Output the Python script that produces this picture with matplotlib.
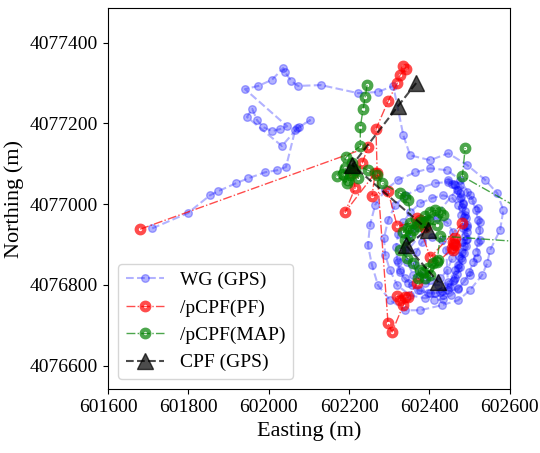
import matplotlib
matplotlib.use("Agg")
import matplotlib.pyplot as plt

plt.rcParams['font.family'] = ['Liberation Serif', 'DejaVu Serif']

# WG (GPS) track
wg_e = [601710, 601799, 601854, 601874, 601919, 601949, 601991, 602021, 602043, 602066,
        602076, 602103, 602071, 602033, 601946, 601959, 601971, 601986, 602008, 602028,
        602046, 601941, 601974, 602008, 602036, 602041, 602056, 602073, 602130, 602223,
        602272, 602310, 602335,
        602352, 602402, 602447, 602494, 602539, 602569, 602584, 602576, 602551, 602544,
        602531, 602501, 602472, 602432, 602377, 602340, 602302, 602272, 602257, 602247,
        602252, 602265, 602290, 602322, 602365, 602402, 602444,
        602477, 602501, 602521, 602526, 602526, 602519, 602501, 602472, 602434, 602389,
        602352, 602320, 602302, 602290, 602287, 602297, 602315, 602340, 602377, 602414,
        602447,
        602464, 602477, 602484, 602489, 602494, 602492, 602482, 602472, 602464, 602452,
        602427, 602402, 602372, 602347, 602327, 602320, 602317, 602322, 602335, 602352,
        602377, 602407, 602434, 602457, 602472, 602479, 602484, 602482, 602474, 602464,
        602447,
        602422, 602389, 602360, 602345, 602340, 602347, 602365, 602389, 602419, 602444,
        602459, 602464, 602457, 602444, 602427, 602402, 602377, 602365, 602367, 602382,
        602407, 602432, 602442,
        602447, 602462, 602472, 602479, 602487, 602489, 602489, 602487, 602482, 602477,
        602469, 602457,
        602447, 602462, 602472, 602479, 602484, 602489, 602492, 602494, 602494, 602494,
        602492, 602487, 602482, 602477, 602469, 602459, 602447, 602432, 602414, 602397,
        602377, 602357, 602340, 602327, 602322,
        602477, 602494, 602506, 602516, 602521, 602524, 602521, 602516, 602509, 602499,
        602487, 602472, 602454, 602434, 602412]
wg_n = [4076940, 4076978, 4077022, 4077032, 4077052, 4077064, 4077079, 4077084, 4077092, 4077184,
        4077191, 4077208, 4077188, 4077144, 4077216, 4077236, 4077208, 4077191, 4077181, 4077186,
        4077193, 4077285, 4077293, 4077308, 4077337, 4077327, 4077305, 4077293, 4077295, 4077275,
        4077278, 4077293, 4077171,
        4077121, 4077109, 4077126, 4077097, 4077060, 4077027, 4076985, 4076936, 4076886, 4076854,
        4076824, 4076787, 4076762, 4076750, 4076737, 4076737, 4076762, 4076799, 4076849, 4076898,
        4076948, 4076998, 4077035, 4077060, 4077079, 4077089, 4077084,
        4077060, 4077022, 4076990, 4076955, 4076911, 4076866, 4076824, 4076792, 4076774, 4076767,
        4076774, 4076799, 4076836, 4076874, 4076916, 4076960, 4076998, 4077022, 4077040, 4077052,
        4077055,
        4077047, 4077027, 4077002, 4076973, 4076943, 4076911, 4076881, 4076849, 4076816, 4076794,
        4076782, 4076779, 4076787, 4076804, 4076831, 4076861, 4076893, 4076926, 4076955, 4076980,
        4077002, 4077015, 4077022, 4077015, 4076997, 4076973, 4076940, 4076906, 4076871, 4076836,
        4076806,
        4076799, 4076804, 4076824, 4076856, 4076886, 4076916, 4076940, 4076960, 4076965, 4076955,
        4076930, 4076898, 4076866, 4076836, 4076816, 4076812, 4076824, 4076849, 4076881, 4076906,
        4076918, 4076911, 4076886,
        4076787, 4076811, 4076841, 4076866, 4076896, 4076921, 4076945, 4076967, 4076992, 4077015,
        4077035, 4077050,
        4077060, 4077050, 4077035, 4077017, 4077000, 4076983, 4076965, 4076948, 4076931, 4076913,
        4076896, 4076878, 4076861, 4076844, 4076826, 4076809, 4076794, 4076784, 4076779, 4076779,
        4076787, 4076799, 4076816, 4076836, 4076856,
        4077047, 4077030, 4077010, 4076985, 4076960, 4076935, 4076906, 4076881, 4076856, 4076831,
        4076809, 4076789, 4076774, 4076764, 4076762]

# /pCPF(PF)
pf_e = [601680, 602247, 602233, 602210, 602215, 602190, 602265, 602257, 602297, 602320,
        602377, 602384, 602372, 602389, 602369, 602402, 602482, 602464, 602459, 602457,
        602462, 602459, 602464, 602369, 602347, 602327, 602320, 602340, 602335, 602307,
        602297, 602270, 602267, 602297, 602320, 602327, 602342, 602335]
pf_n = [4076938, 4077141, 4077102, 4077077, 4077040, 4076980, 4077077, 4077020, 4077032, 4076945,
        4076960, 4076950, 4076955, 4076943, 4076965, 4076868, 4076953, 4076916, 4076906, 4076891,
        4076901, 4076886, 4076898, 4076804, 4076769, 4076762, 4076772, 4076769, 4076750, 4076683,
        4076705, 4077077, 4077186, 4077255, 4077300, 4077320, 4077335, 4077342]

# /pCPF(MAP)
map_e = [602245, 602240, 602235, 602228, 602228, 602193, 602170, 602195, 602185, 602190,
         602198, 602203, 602208, 602215, 602223, 602208, 602247, 602270, 602282, 602327,
         602340, 602347, 602360, 602372, 602377, 602389, 602397, 602402, 602414, 602427,
         602434, 602419, 602389, 602352, 602335, 602347, 602352, 602340, 602327, 602345,
         602360, 602372, 602384, 602397, 602409, 602422, 602402, 602389, 602377, 602419,
         602427, 602825, 602825, 602482, 602489]
map_n = [4077295, 4077265, 4077236, 4077191, 4077144, 4077117, 4077069, 4077052, 4077074, 4077089,
         4077060, 4077072, 4077084, 4077084, 4077064, 4077102, 4077084, 4077072, 4077052, 4077027,
         4077017, 4077010, 4076935, 4076945, 4076955, 4076970, 4076960, 4076980, 4076985, 4076980,
         4076973, 4076948, 4076955, 4076953, 4076930, 4076941, 4076923, 4076911, 4076886, 4076866,
         4076853, 4076816, 4076831, 4076841, 4076854, 4076861, 4076824, 4076816, 4076836, 4076856,
         4076921, 4076893, 4076876, 4077069, 4077139]

# CPF (GPS)
cpf_e = [602367, 602322, 602208, 602397, 602342, 602422]
cpf_n = [4077300, 4077243, 4077097, 4076936, 4076898, 4076807]

fig = plt.figure(figsize=(5.4, 4.53), dpi=100)
ax = fig.add_axes([0.2, 0.1413, 0.744, 0.8410])

ax.plot(wg_e, wg_n, 'b--', marker='o', ms=5.5, lw=1.5, alpha=0.3, label='WG (GPS)')
ax.plot(pf_e, pf_n, 'r-.', marker='o', ms=5.5, mfc='none', mew=3, lw=1, alpha=0.7,
        label='/pCPF(PF)')
ax.plot(map_e, map_n, 'g-.', marker='o', ms=5.5, mfc='none', mew=3, lw=1, alpha=0.7,
        label='/pCPF(MAP)')
ax.plot(cpf_e, cpf_n, 'k--', marker='^', ms=11, lw=1.5, alpha=0.7, label='CPF (GPS)')

ax.set_xlim(601600, 602600)
ax.set_ylim(4076542, 4077486)
ax.set_xticks([601600, 601800, 602000, 602200, 602400, 602600])
ax.set_yticks([4076600, 4076800, 4077000, 4077200, 4077400])
ax.ticklabel_format(useOffset=False, style='plain')
ax.tick_params(labelsize=14)
ax.set_xlabel('Easting (m)', fontsize=16)
ax.set_ylabel('Northing (m)', fontsize=16)
ax.legend(loc='lower left', fontsize=14)

fig.savefig('out.png', dpi=100)
